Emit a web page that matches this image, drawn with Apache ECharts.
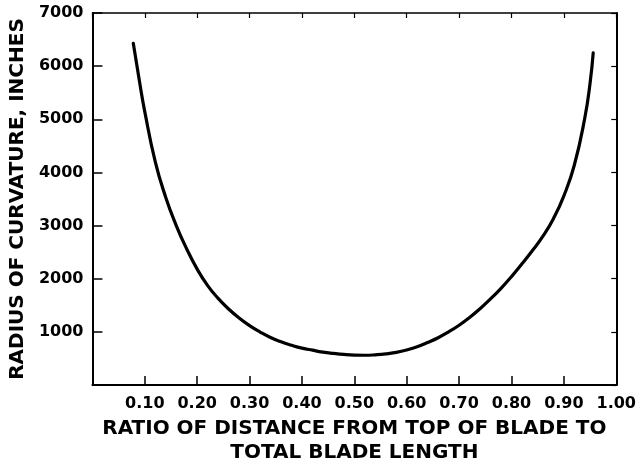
<!DOCTYPE html>
<html>
<head>
<meta charset="utf-8">
<script src="https://cdn.jsdelivr.net/npm/echarts@6/dist/echarts.min.js"></script>
<style>
html,body{margin:0;padding:0;background:#fff;}
#chart{width:639px;height:470px;}
</style>
</head>
<body>
<div id="chart"></div>
<script>
// Data
var ratio  = [0.078, 0.09, 0.10, 0.12, 0.14, 0.16, 0.18, 0.20, 0.22, 0.24, 0.26, 0.28, 0.30, 0.32, 0.34, 0.36, 0.38, 0.40, 0.42, 0.44, 0.46, 0.48, 0.50, 0.52, 0.54, 0.56, 0.58, 0.60, 0.62, 0.64, 0.66, 0.68, 0.70, 0.72, 0.74, 0.76, 0.78, 0.80, 0.82, 0.84, 0.86, 0.88, 0.90, 0.92, 0.94, 0.95, 0.956];
var radius = [6430, 5700, 5140, 4200, 3530, 3000, 2560, 2180, 1870, 1630, 1430, 1260, 1117, 997, 893, 812, 748, 694, 655, 620, 595, 575, 563, 560, 568, 585, 615, 660, 720, 800, 890, 1000, 1125, 1270, 1435, 1620, 1820, 2040, 2280, 2530, 2800, 3130, 3560, 4140, 5030, 5680, 6250];
var xTicks = [0.10, 0.20, 0.30, 0.40, 0.50, 0.60, 0.70, 0.80, 0.90, 1.00];
var yTicks = [1000, 2000, 3000, 4000, 5000, 6000, 7000];
var xTitle = 'RATIO OF DISTANCE FROM TOP OF BLADE TO\nTOTAL BLADE LENGTH';
var yTitle = 'RADIUS OF CURVATURE, INCHES';

var points = ratio.map(function (r, i) { return [r, radius[i]]; });
var FONT = 'DejaVu Sans';

var chart = echarts.init(document.getElementById('chart'), null, {renderer: 'canvas'});
chart.setOption({
  animation: false,
  backgroundColor: '#fff',
  grid: {left: 91, right: 21, top: 13, bottom: 85, containLabel: false},
  xAxis: [{
    type: 'value', position: 'bottom', min: 0, max: 1, interval: 0.1,
    axisLine: {show: true, lineStyle: {color: '#000', width: 2}},
    axisTick: {show: true, inside: true, length: 9, lineStyle: {color: '#000', width: 1.5}},
    splitLine: {show: false},
    axisLabel: {
      margin: 11, color: '#000', fontFamily: FONT, fontWeight: 'bold', fontSize: 16,
      formatter: function (v) {
        var f = Math.round(v * 100) / 100;
        return xTicks.indexOf(f) >= 0 ? f.toFixed(2) : '';
      }
    },
    name: xTitle, nameLocation: 'middle', nameGap: 27,
    nameTextStyle: {color: '#000', fontFamily: FONT, fontWeight: 'bold', fontSize: 20, lineHeight: 24, align: 'center'}
  }, {
    type: 'value', position: 'top', min: 0, max: 1, interval: 0.1,
    axisLine: {show: true, onZero: false, lineStyle: {color: '#000', width: 1.5}},
    axisTick: {show: true, inside: true, length: 5, lineStyle: {color: '#000', width: 1.2}},
    axisLabel: {show: false}, splitLine: {show: false}
  }],
  yAxis: [{
    type: 'value', position: 'left', min: 0, max: 7000, interval: 1000,
    axisLine: {show: true, lineStyle: {color: '#000', width: 2}},
    axisTick: {show: true, inside: true, length: 10, lineStyle: {color: '#000', width: 1.5}},
    splitLine: {show: false},
    axisLabel: {
      margin: 9, color: '#000', fontFamily: FONT, fontWeight: 'bold', fontSize: 16,
      formatter: function (v) { return yTicks.indexOf(v) >= 0 ? String(v) : ''; }
    },
    name: yTitle, nameLocation: 'middle', nameGap: 62, nameRotate: 90,
    nameTextStyle: {color: '#000', fontFamily: FONT, fontWeight: 'bold', fontSize: 20}
  }, {
    type: 'value', position: 'right', min: 0, max: 7000, interval: 1000,
    axisLine: {show: true, onZero: false, lineStyle: {color: '#000', width: 2}},
    axisTick: {show: true, inside: true, length: 5, lineStyle: {color: '#000', width: 1.2}},
    axisLabel: {show: false}, splitLine: {show: false}
  }],
  series: [{
    type: 'line', xAxisIndex: 0, yAxisIndex: 0,
    data: points, showSymbol: false, symbol: 'none',
    smooth: true,
    lineStyle: {color: '#000', width: 3.2, cap: 'round', join: 'round'}
  }]
});
</script>
</body>
</html>
